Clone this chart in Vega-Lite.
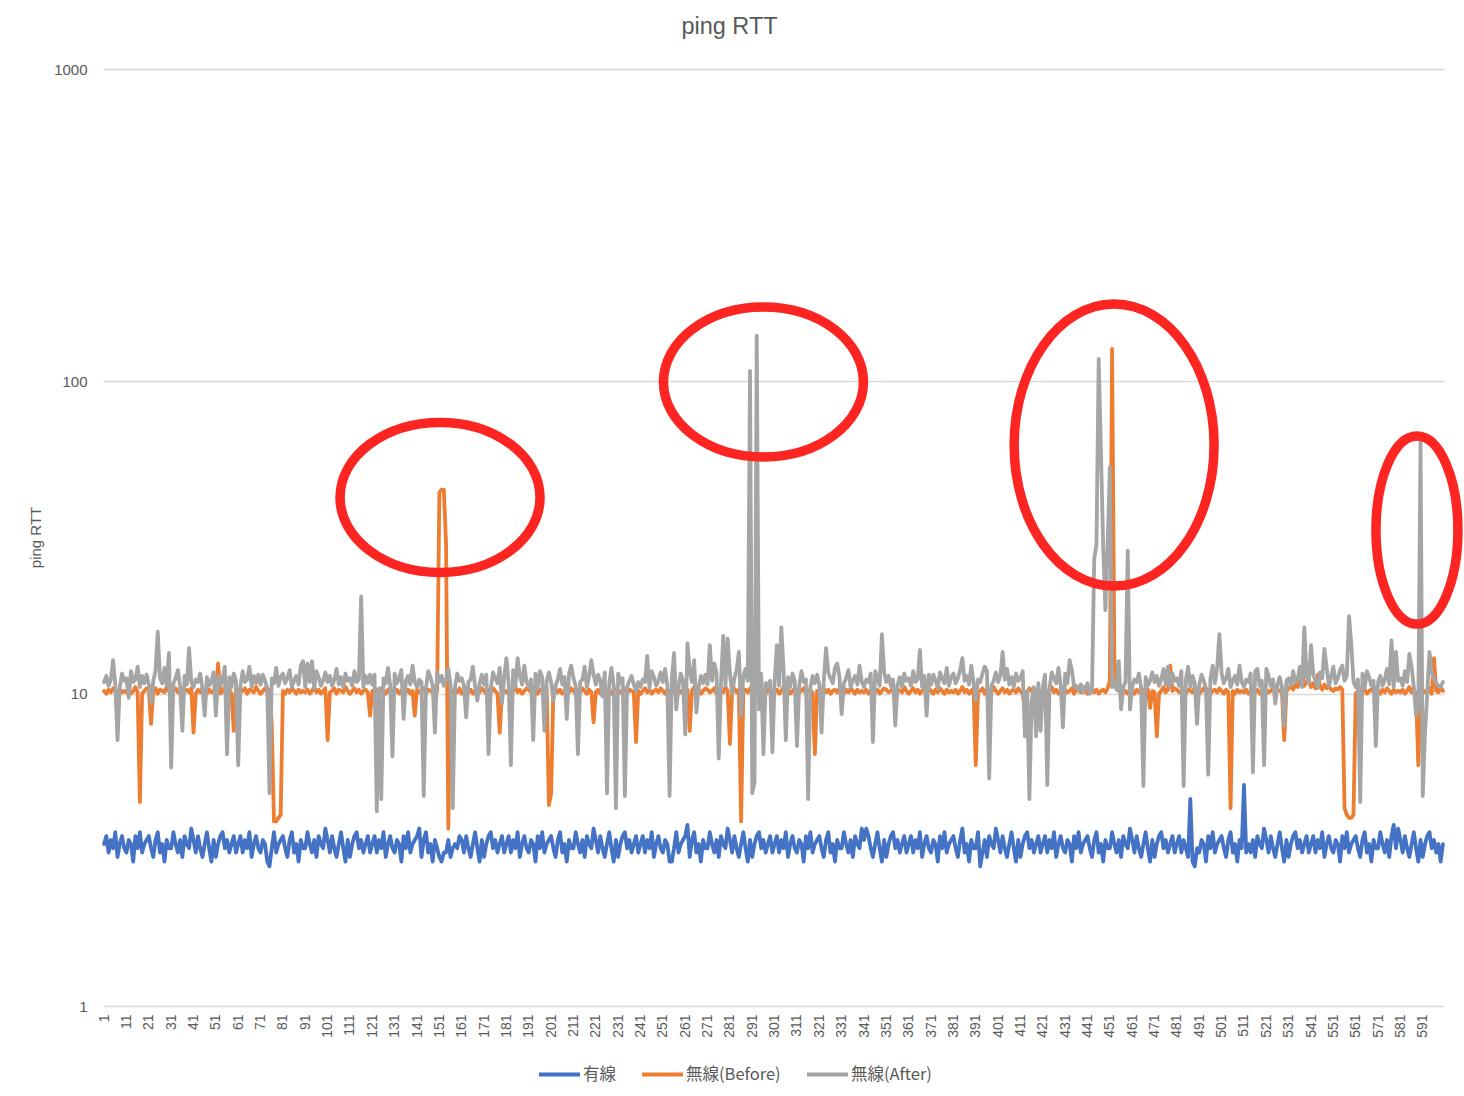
{
"$schema":"https://vega.github.io/schema/vega-lite/v6.json",
"width":1341,"height":937,
"autosize":{"type":"none"},
"padding":{"left":103,"top":69,"right":20,"bottom":90},
"background":"white",
"config":{"view":{"stroke":null},"font":"Liberation Sans","axis":{"labelOverlap":false},"axisX":{"labelOverlap":false,"labelBound":false}},
"title":{"text":"ping RTT","fontSize":23.5,"color":"#595959","fontWeight":"normal","anchor":"middle","dx":-44,"offset":24,"font":"Liberation Sans"},
"layer":[
{"data":{"values":[{"i":1,"w":3.3,"b":10.2,"a":10.9},{"i":2,"w":3.5,"b":10.0,"a":11.4},{"i":3,"w":3.1,"b":10.3,"a":10.6},{"i":4,"w":3.4,"b":10.1,"a":11.1},{"i":5,"w":3.2,"b":10.4,"a":12.8},{"i":6,"w":3.6,"b":10.2,"a":10.7},{"i":7,"w":3.0,"b":10.0,"a":7.1},{"i":8,"w":3.3,"b":10.3,"a":10.5},{"i":9,"w":3.5,"b":10.1,"a":11.6},{"i":10,"w":3.2,"b":10.2,"a":11.0},
{"i":11,"w":3.1,"b":10.1,"a":11.2},{"i":12,"w":3.4,"b":10.3,"a":9.7},{"i":13,"w":3.3,"b":10.0,"a":11.8},{"i":14,"w":2.9,"b":10.2,"a":10.9},{"i":15,"w":3.5,"b":10.5,"a":11.1},{"i":16,"w":3.2,"b":10.1,"a":12.2},{"i":17,"w":3.6,"b":4.5,"a":10.5},{"i":18,"w":3.1,"b":10.0,"a":11.4},{"i":19,"w":3.3,"b":10.2,"a":10.8},{"i":20,"w":3.4,"b":10.4,"a":11.5},
{"i":21,"w":3.5,"b":10.3,"a":10.7},{"i":22,"w":3.2,"b":8.0,"a":9.3},{"i":23,"w":3.0,"b":10.2,"a":11.0},{"i":24,"w":3.4,"b":10.4,"a":11.8},{"i":25,"w":3.6,"b":10.0,"a":15.8},{"i":26,"w":3.1,"b":10.3,"a":11.2},{"i":27,"w":3.3,"b":10.2,"a":10.8},{"i":28,"w":2.9,"b":10.1,"a":12.1},{"i":29,"w":3.4,"b":10.5,"a":10.6},{"i":30,"w":3.2,"b":10.2,"a":13.5},
{"i":31,"w":3.2,"b":10.0,"a":5.8},{"i":32,"w":3.6,"b":10.2,"a":10.8},{"i":33,"w":3.3,"b":10.4,"a":11.2},{"i":34,"w":3.1,"b":10.1,"a":11.9},{"i":35,"w":3.4,"b":10.3,"a":10.5},{"i":36,"w":3.0,"b":10.0,"a":7.6},{"i":37,"w":3.5,"b":10.2,"a":11.4},{"i":38,"w":3.3,"b":10.3,"a":10.7},{"i":39,"w":3.2,"b":10.1,"a":14.0},{"i":40,"w":3.7,"b":10.4,"a":10.9},
{"i":41,"w":3.4,"b":7.5,"a":10.5},{"i":42,"w":3.1,"b":10.0,"a":11.1},{"i":43,"w":3.5,"b":10.3,"a":10.9},{"i":44,"w":3.2,"b":10.1,"a":11.6},{"i":45,"w":3.0,"b":10.4,"a":10.4},{"i":46,"w":3.3,"b":10.2,"a":8.5},{"i":47,"w":3.6,"b":10.0,"a":11.3},{"i":48,"w":3.2,"b":10.3,"a":10.6},{"i":49,"w":2.9,"b":10.1,"a":11.0},{"i":50,"w":3.4,"b":10.2,"a":11.7},
{"i":51,"w":3.0,"b":10.1,"a":8.5},{"i":52,"w":3.3,"b":12.5,"a":11.4},{"i":53,"w":3.5,"b":10.0,"a":10.6},{"i":54,"w":3.6,"b":10.2,"a":11.1},{"i":55,"w":3.2,"b":10.5,"a":12.2},{"i":56,"w":3.4,"b":10.1,"a":6.4},{"i":57,"w":3.1,"b":10.3,"a":11.3},{"i":58,"w":3.3,"b":10.0,"a":10.5},{"i":59,"w":3.5,"b":7.6,"a":11.6},{"i":60,"w":3.1,"b":10.4,"a":11.0},
{"i":61,"w":3.3,"b":10.3,"a":5.9},{"i":62,"w":3.5,"b":10.1,"a":10.6},{"i":63,"w":3.1,"b":10.2,"a":11.8},{"i":64,"w":3.4,"b":10.4,"a":10.9},{"i":65,"w":3.2,"b":10.0,"a":11.1},{"i":66,"w":3.6,"b":10.3,"a":12.2},{"i":67,"w":3.0,"b":10.2,"a":10.5},{"i":68,"w":3.3,"b":10.1,"a":11.4},{"i":69,"w":3.5,"b":10.5,"a":10.8},{"i":70,"w":3.2,"b":10.2,"a":11.5},
{"i":71,"w":3.1,"b":10.0,"a":10.7},{"i":72,"w":3.4,"b":10.2,"a":11.5},{"i":73,"w":3.3,"b":10.4,"a":11.0},{"i":74,"w":2.9,"b":10.1,"a":10.4},{"i":75,"w":2.8,"b":10.3,"a":4.8},{"i":76,"w":3.2,"b":8.0,"a":11.2},{"i":77,"w":3.6,"b":3.9,"a":10.8},{"i":78,"w":3.1,"b":3.9,"a":12.1},{"i":79,"w":3.3,"b":4.0,"a":10.6},{"i":80,"w":3.4,"b":4.1,"a":11.3},
{"i":81,"w":3.5,"b":10.2,"a":11.6},{"i":82,"w":3.2,"b":10.0,"a":10.8},{"i":83,"w":3.0,"b":10.3,"a":11.2},{"i":84,"w":3.4,"b":10.1,"a":11.9},{"i":85,"w":3.6,"b":10.4,"a":10.5},{"i":86,"w":3.1,"b":10.2,"a":11.0},{"i":87,"w":3.3,"b":10.0,"a":11.4},{"i":88,"w":2.9,"b":10.3,"a":10.7},{"i":89,"w":3.4,"b":10.1,"a":12.3},{"i":90,"w":3.2,"b":10.2,"a":12.7},
{"i":91,"w":3.2,"b":10.1,"a":10.5},{"i":92,"w":3.6,"b":10.3,"a":12.5},{"i":93,"w":3.3,"b":10.0,"a":10.9},{"i":94,"w":3.1,"b":10.2,"a":12.7},{"i":95,"w":3.4,"b":10.5,"a":10.4},{"i":96,"w":3.0,"b":10.1,"a":11.8},{"i":97,"w":3.5,"b":10.3,"a":11.3},{"i":98,"w":3.3,"b":10.0,"a":10.6},{"i":99,"w":3.2,"b":10.2,"a":11.0},{"i":100,"w":3.7,"b":10.4,"a":11.7},
{"i":101,"w":3.4,"b":7.1,"a":10.9},{"i":102,"w":3.1,"b":10.1,"a":11.4},{"i":103,"w":3.5,"b":10.2,"a":10.6},{"i":104,"w":3.2,"b":10.4,"a":11.1},{"i":105,"w":3.0,"b":10.0,"a":12.0},{"i":106,"w":3.3,"b":10.3,"a":10.7},{"i":107,"w":3.6,"b":10.2,"a":11.3},{"i":108,"w":3.2,"b":10.1,"a":10.5},{"i":109,"w":2.9,"b":10.5,"a":11.6},{"i":110,"w":3.4,"b":10.2,"a":11.0},
{"i":111,"w":3.0,"b":10.0,"a":11.2},{"i":112,"w":3.3,"b":10.2,"a":10.6},{"i":113,"w":3.5,"b":10.4,"a":11.8},{"i":114,"w":3.6,"b":10.1,"a":10.9},{"i":115,"w":3.2,"b":10.3,"a":11.1},{"i":116,"w":3.4,"b":10.0,"a":20.5},{"i":117,"w":3.1,"b":10.2,"a":10.5},{"i":118,"w":3.3,"b":10.3,"a":11.4},{"i":119,"w":3.5,"b":10.1,"a":10.8},{"i":120,"w":3.1,"b":8.5,"a":11.5},
{"i":121,"w":3.3,"b":10.2,"a":10.7},{"i":122,"w":3.5,"b":10.0,"a":11.5},{"i":123,"w":3.1,"b":10.3,"a":4.2},{"i":124,"w":3.4,"b":10.1,"a":10.4},{"i":125,"w":3.2,"b":10.4,"a":4.6},{"i":126,"w":3.6,"b":10.2,"a":11.2},{"i":127,"w":3.0,"b":10.0,"a":10.8},{"i":128,"w":3.3,"b":10.3,"a":12.1},{"i":129,"w":3.5,"b":10.1,"a":10.6},{"i":130,"w":3.2,"b":10.2,"a":6.3},
{"i":131,"w":3.1,"b":10.1,"a":11.6},{"i":132,"w":3.4,"b":10.3,"a":10.8},{"i":133,"w":3.3,"b":10.0,"a":11.2},{"i":134,"w":2.9,"b":10.2,"a":11.9},{"i":135,"w":3.5,"b":10.5,"a":8.3},{"i":136,"w":3.2,"b":10.1,"a":11.0},{"i":137,"w":3.6,"b":10.3,"a":11.4},{"i":138,"w":3.1,"b":10.0,"a":10.7},{"i":139,"w":3.3,"b":10.2,"a":12.3},{"i":140,"w":3.4,"b":8.5,"a":10.9},
{"i":141,"w":3.5,"b":10.3,"a":10.5},{"i":142,"w":3.7,"b":10.1,"a":11.1},{"i":143,"w":3.0,"b":10.2,"a":10.9},{"i":144,"w":3.4,"b":10.4,"a":4.7},{"i":145,"w":3.6,"b":10.0,"a":10.4},{"i":146,"w":3.1,"b":10.3,"a":11.8},{"i":147,"w":3.3,"b":10.2,"a":11.3},{"i":148,"w":2.9,"b":10.1,"a":10.6},{"i":149,"w":3.4,"b":10.5,"a":7.5},{"i":150,"w":3.2,"b":10.2,"a":11.7},
{"i":151,"w":3.0,"b":44,"a":10.9},{"i":152,"w":2.9,"b":45,"a":11.4},{"i":153,"w":3.1,"b":45,"a":10.6},{"i":154,"w":3.1,"b":30,"a":11.1},{"i":155,"w":3.4,"b":3.7,"a":12.0},{"i":156,"w":3.0,"b":10.0,"a":10.7},{"i":157,"w":3.2,"b":10.2,"a":4.3},{"i":158,"w":3.3,"b":10.3,"a":10.5},{"i":159,"w":3.2,"b":10.1,"a":11.6},{"i":160,"w":3.5,"b":10.4,"a":11.0},
{"i":161,"w":3.4,"b":10.0,"a":11.2},{"i":162,"w":3.1,"b":10.2,"a":10.6},{"i":163,"w":3.5,"b":10.4,"a":8.4},{"i":164,"w":3.2,"b":10.1,"a":10.9},{"i":165,"w":3.0,"b":10.3,"a":11.1},{"i":166,"w":3.3,"b":10.0,"a":12.2},{"i":167,"w":3.6,"b":10.2,"a":10.5},{"i":168,"w":3.2,"b":10.3,"a":9.5},{"i":169,"w":2.9,"b":10.1,"a":10.8},{"i":170,"w":3.4,"b":10.4,"a":11.5},
{"i":171,"w":3.0,"b":10.2,"a":10.7},{"i":172,"w":3.3,"b":10.0,"a":11.5},{"i":173,"w":3.5,"b":10.3,"a":6.4},{"i":174,"w":3.6,"b":10.1,"a":10.4},{"i":175,"w":3.2,"b":10.4,"a":11.7},{"i":176,"w":3.4,"b":10.2,"a":11.2},{"i":177,"w":3.1,"b":10.0,"a":10.8},{"i":178,"w":3.3,"b":7.5,"a":12.1},{"i":179,"w":3.5,"b":10.1,"a":9.3},{"i":180,"w":3.1,"b":10.2,"a":11.3},
{"i":181,"w":3.3,"b":10.1,"a":13.0},{"i":182,"w":3.5,"b":10.3,"a":10.8},{"i":183,"w":3.1,"b":10.0,"a":5.9},{"i":184,"w":3.4,"b":10.2,"a":11.9},{"i":185,"w":3.2,"b":10.5,"a":10.5},{"i":186,"w":3.6,"b":10.1,"a":13.0},{"i":187,"w":3.0,"b":10.3,"a":11.4},{"i":188,"w":3.3,"b":10.0,"a":10.7},{"i":189,"w":3.5,"b":10.2,"a":12.3},{"i":190,"w":3.2,"b":10.4,"a":10.9},
{"i":191,"w":3.1,"b":10.3,"a":10.5},{"i":192,"w":3.4,"b":10.1,"a":11.1},{"i":193,"w":3.3,"b":10.2,"a":7.1},{"i":194,"w":2.9,"b":10.4,"a":11.6},{"i":195,"w":3.5,"b":10.0,"a":10.4},{"i":196,"w":3.2,"b":10.3,"a":11.8},{"i":197,"w":3.6,"b":10.2,"a":11.3},{"i":198,"w":3.1,"b":10.1,"a":7.6},{"i":199,"w":3.3,"b":10.5,"a":11.0},{"i":200,"w":3.4,"b":4.4,"a":11.7},
{"i":201,"w":3.5,"b":4.8,"a":10.9},{"i":202,"w":3.2,"b":10.2,"a":9.5},{"i":203,"w":3.0,"b":10.4,"a":10.6},{"i":204,"w":3.4,"b":10.1,"a":11.1},{"i":205,"w":3.6,"b":10.3,"a":12.0},{"i":206,"w":3.1,"b":10.0,"a":10.7},{"i":207,"w":3.3,"b":10.2,"a":11.3},{"i":208,"w":2.9,"b":10.3,"a":8.3},{"i":209,"w":3.4,"b":10.1,"a":11.6},{"i":210,"w":3.2,"b":10.4,"a":12.3},
{"i":211,"w":3.2,"b":10.2,"a":11.2},{"i":212,"w":3.6,"b":10.0,"a":10.6},{"i":213,"w":3.3,"b":10.3,"a":6.4},{"i":214,"w":3.1,"b":10.1,"a":10.9},{"i":215,"w":3.4,"b":10.4,"a":11.1},{"i":216,"w":3.0,"b":10.2,"a":12.2},{"i":217,"w":3.5,"b":10.0,"a":10.5},{"i":218,"w":3.3,"b":10.3,"a":11.4},{"i":219,"w":3.2,"b":10.1,"a":12.8},{"i":220,"w":3.7,"b":8.1,"a":11.5},
{"i":221,"w":3.4,"b":10.1,"a":10.7},{"i":222,"w":3.1,"b":10.3,"a":11.5},{"i":223,"w":3.5,"b":10.0,"a":11.0},{"i":224,"w":3.2,"b":10.2,"a":9.8},{"i":225,"w":3.0,"b":10.5,"a":11.7},{"i":226,"w":3.3,"b":10.1,"a":4.8},{"i":227,"w":3.6,"b":10.3,"a":10.8},{"i":228,"w":3.2,"b":10.0,"a":12.1},{"i":229,"w":2.9,"b":10.2,"a":10.6},{"i":230,"w":3.4,"b":10.4,"a":4.3},
{"i":231,"w":3.0,"b":10.3,"a":11.6},{"i":232,"w":3.3,"b":10.1,"a":10.8},{"i":233,"w":3.5,"b":10.2,"a":11.2},{"i":234,"w":3.6,"b":10.4,"a":4.7},{"i":235,"w":3.2,"b":10.0,"a":10.5},{"i":236,"w":3.4,"b":10.3,"a":11.0},{"i":237,"w":3.1,"b":10.2,"a":11.4},{"i":238,"w":3.3,"b":10.1,"a":10.7},{"i":239,"w":3.5,"b":7.0,"a":10.2},{"i":240,"w":3.1,"b":10.2,"a":10.9},
{"i":241,"w":3.3,"b":10.0,"a":10.5},{"i":242,"w":3.5,"b":10.2,"a":11.1},{"i":243,"w":3.1,"b":10.4,"a":10.9},{"i":244,"w":3.4,"b":10.1,"a":13.2},{"i":245,"w":3.2,"b":10.3,"a":10.4},{"i":246,"w":3.6,"b":10.0,"a":11.8},{"i":247,"w":3.0,"b":10.2,"a":11.3},{"i":248,"w":3.3,"b":10.3,"a":10.6},{"i":249,"w":3.5,"b":10.1,"a":11.0},{"i":250,"w":3.2,"b":10.4,"a":11.7},
{"i":251,"w":3.1,"b":10.2,"a":10.9},{"i":252,"w":3.4,"b":10.0,"a":12.0},{"i":253,"w":3.3,"b":10.3,"a":10.6},{"i":254,"w":2.9,"b":10.1,"a":4.7},{"i":255,"w":2.9,"b":10.4,"a":11.1},{"i":256,"w":3.2,"b":10.2,"a":13.5},{"i":257,"w":3.6,"b":10.0,"a":8.9},{"i":258,"w":3.1,"b":10.3,"a":10.5},{"i":259,"w":3.3,"b":10.1,"a":11.6},{"i":260,"w":3.4,"b":10.2,"a":11.0},
{"i":261,"w":3.5,"b":10.1,"a":7.4},{"i":262,"w":3.8,"b":10.3,"a":14.5},{"i":263,"w":3.0,"b":7.6,"a":11.8},{"i":264,"w":3.4,"b":10.2,"a":10.9},{"i":265,"w":3.6,"b":10.5,"a":12.8},{"i":266,"w":3.1,"b":10.1,"a":8.7},{"i":267,"w":3.3,"b":10.3,"a":10.5},{"i":268,"w":2.9,"b":10.0,"a":11.4},{"i":269,"w":3.4,"b":10.2,"a":10.8},{"i":270,"w":3.2,"b":10.4,"a":11.5},
{"i":271,"w":3.2,"b":10.3,"a":10.7},{"i":272,"w":3.6,"b":10.1,"a":14.3},{"i":273,"w":3.3,"b":10.2,"a":11.0},{"i":274,"w":3.1,"b":10.4,"a":12.5},{"i":275,"w":3.4,"b":10.0,"a":11.7},{"i":276,"w":3.0,"b":10.3,"a":6.2},{"i":277,"w":3.5,"b":10.2,"a":10.8},{"i":278,"w":3.3,"b":10.1,"a":15.3},{"i":279,"w":3.2,"b":10.5,"a":10.6},{"i":280,"w":3.7,"b":10.2,"a":15.0},
{"i":281,"w":3.4,"b":6.9,"a":11.6},{"i":282,"w":3.1,"b":10.2,"a":10.0},{"i":283,"w":3.5,"b":10.4,"a":11.2},{"i":284,"w":3.2,"b":10.1,"a":11.9},{"i":285,"w":3.0,"b":10.3,"a":13.6},{"i":286,"w":3.3,"b":3.9,"a":8.5},{"i":287,"w":3.6,"b":10.2,"a":11.4},{"i":288,"w":3.2,"b":10.3,"a":12.0},{"i":289,"w":2.9,"b":10.1,"a":11.0},{"i":290,"w":3.4,"b":10.4,"a":108},
{"i":291,"w":3.0,"b":10.2,"a":4.8},{"i":292,"w":3.3,"b":10.0,"a":5.2},{"i":293,"w":3.5,"b":10.3,"a":140},{"i":294,"w":3.6,"b":10.1,"a":8.9},{"i":295,"w":3.2,"b":10.4,"a":11.6},{"i":296,"w":3.4,"b":10.2,"a":6.4},{"i":297,"w":3.1,"b":10.0,"a":10.8},{"i":298,"w":3.3,"b":10.3,"a":10.6},{"i":299,"w":3.5,"b":10.1,"a":11.0},{"i":300,"w":3.1,"b":10.2,"a":6.5},
{"i":301,"w":3.3,"b":10.1,"a":10.9},{"i":302,"w":3.5,"b":10.3,"a":14.3},{"i":303,"w":3.1,"b":10.0,"a":10.6},{"i":304,"w":3.4,"b":10.2,"a":16.3},{"i":305,"w":3.2,"b":10.5,"a":12.0},{"i":306,"w":3.6,"b":10.1,"a":7.1},{"i":307,"w":3.0,"b":10.3,"a":11.3},{"i":308,"w":3.3,"b":10.0,"a":10.5},{"i":309,"w":3.5,"b":10.2,"a":11.6},{"i":310,"w":3.2,"b":10.4,"a":11.0},
{"i":311,"w":3.1,"b":10.3,"a":6.8},{"i":312,"w":3.4,"b":10.1,"a":10.6},{"i":313,"w":3.3,"b":10.2,"a":11.8},{"i":314,"w":2.9,"b":10.4,"a":10.9},{"i":315,"w":3.5,"b":10.0,"a":11.1},{"i":316,"w":3.2,"b":10.3,"a":4.6},{"i":317,"w":3.6,"b":10.2,"a":10.5},{"i":318,"w":3.1,"b":10.1,"a":11.4},{"i":319,"w":3.3,"b":6.4,"a":10.8},{"i":320,"w":3.4,"b":10.2,"a":11.5},
{"i":321,"w":3.5,"b":10.0,"a":10.7},{"i":322,"w":3.2,"b":10.2,"a":7.5},{"i":323,"w":3.0,"b":10.4,"a":11.0},{"i":324,"w":3.4,"b":10.1,"a":14.0},{"i":325,"w":3.6,"b":10.3,"a":11.7},{"i":326,"w":3.1,"b":10.0,"a":11.2},{"i":327,"w":3.3,"b":10.2,"a":10.8},{"i":328,"w":2.9,"b":10.3,"a":12.1},{"i":329,"w":3.4,"b":10.1,"a":12.5},{"i":330,"w":3.2,"b":10.4,"a":11.3},
{"i":331,"w":3.2,"b":10.2,"a":8.6},{"i":332,"w":3.6,"b":10.0,"a":10.8},{"i":333,"w":3.3,"b":10.3,"a":11.2},{"i":334,"w":3.1,"b":10.1,"a":11.9},{"i":335,"w":3.4,"b":10.4,"a":10.5},{"i":336,"w":3.0,"b":10.2,"a":11.0},{"i":337,"w":3.5,"b":10.0,"a":11.4},{"i":338,"w":3.3,"b":10.3,"a":10.7},{"i":339,"w":3.2,"b":10.1,"a":12.3},{"i":340,"w":3.7,"b":10.2,"a":10.9},
{"i":341,"w":3.4,"b":10.1,"a":10.5},{"i":342,"w":3.7,"b":10.3,"a":11.1},{"i":343,"w":3.5,"b":10.0,"a":10.9},{"i":344,"w":3.2,"b":10.2,"a":11.6},{"i":345,"w":3.0,"b":10.5,"a":7.0},{"i":346,"w":3.3,"b":10.1,"a":11.8},{"i":347,"w":3.6,"b":10.3,"a":11.3},{"i":348,"w":3.2,"b":10.0,"a":10.6},{"i":349,"w":2.9,"b":10.2,"a":15.5},{"i":350,"w":3.4,"b":10.4,"a":11.7},
{"i":351,"w":3.0,"b":10.3,"a":10.9},{"i":352,"w":3.3,"b":10.1,"a":11.4},{"i":353,"w":3.5,"b":10.2,"a":10.6},{"i":354,"w":3.6,"b":10.4,"a":11.1},{"i":355,"w":3.2,"b":10.0,"a":7.9},{"i":356,"w":3.4,"b":10.3,"a":10.7},{"i":357,"w":3.1,"b":10.2,"a":11.3},{"i":358,"w":3.3,"b":10.1,"a":10.5},{"i":359,"w":3.5,"b":10.5,"a":11.6},{"i":360,"w":3.1,"b":10.2,"a":11.0},
{"i":361,"w":3.3,"b":10.0,"a":11.2},{"i":362,"w":3.5,"b":10.2,"a":10.6},{"i":363,"w":3.1,"b":10.4,"a":11.8},{"i":364,"w":3.4,"b":10.1,"a":10.9},{"i":365,"w":3.2,"b":10.3,"a":11.1},{"i":366,"w":3.6,"b":10.0,"a":13.8},{"i":367,"w":3.0,"b":10.2,"a":10.5},{"i":368,"w":3.3,"b":10.3,"a":11.4},{"i":369,"w":3.5,"b":10.1,"a":8.5},{"i":370,"w":3.2,"b":10.4,"a":11.5},
{"i":371,"w":3.1,"b":10.2,"a":10.7},{"i":372,"w":3.4,"b":10.0,"a":11.5},{"i":373,"w":3.3,"b":10.3,"a":11.0},{"i":374,"w":2.9,"b":10.1,"a":10.4},{"i":375,"w":3.5,"b":10.4,"a":11.7},{"i":376,"w":3.2,"b":10.2,"a":11.2},{"i":377,"w":3.6,"b":10.0,"a":10.8},{"i":378,"w":3.1,"b":10.3,"a":12.1},{"i":379,"w":3.3,"b":10.1,"a":10.6},{"i":380,"w":3.4,"b":10.2,"a":11.3},
{"i":381,"w":3.5,"b":10.1,"a":11.6},{"i":382,"w":3.2,"b":10.3,"a":10.8},{"i":383,"w":3.0,"b":10.0,"a":11.2},{"i":384,"w":3.4,"b":10.2,"a":11.9},{"i":385,"w":3.7,"b":10.5,"a":13.0},{"i":386,"w":3.1,"b":10.1,"a":11.0},{"i":387,"w":3.3,"b":10.3,"a":11.4},{"i":388,"w":2.9,"b":10.0,"a":10.7},{"i":389,"w":3.4,"b":10.2,"a":12.3},{"i":390,"w":3.2,"b":10.4,"a":10.9},
{"i":391,"w":3.2,"b":5.9,"a":9.5},{"i":392,"w":3.6,"b":10.1,"a":11.1},{"i":393,"w":2.8,"b":10.2,"a":10.9},{"i":394,"w":3.1,"b":10.4,"a":11.6},{"i":395,"w":3.4,"b":10.0,"a":12.2},{"i":396,"w":3.0,"b":10.3,"a":11.8},{"i":397,"w":3.5,"b":10.2,"a":5.35},{"i":398,"w":3.3,"b":10.1,"a":10.6},{"i":399,"w":3.2,"b":10.5,"a":11.0},{"i":400,"w":3.7,"b":10.2,"a":11.7},
{"i":401,"w":3.4,"b":10.0,"a":10.9},{"i":402,"w":3.1,"b":10.2,"a":11.4},{"i":403,"w":3.5,"b":10.4,"a":13.6},{"i":404,"w":3.2,"b":10.1,"a":11.1},{"i":405,"w":3.0,"b":10.3,"a":12.0},{"i":406,"w":3.3,"b":10.0,"a":10.7},{"i":407,"w":3.6,"b":10.2,"a":11.3},{"i":408,"w":3.2,"b":10.3,"a":10.5},{"i":409,"w":2.9,"b":10.1,"a":11.6},{"i":410,"w":3.4,"b":10.4,"a":11.0},
{"i":411,"w":3.0,"b":10.2,"a":11.2},{"i":412,"w":3.3,"b":10.0,"a":11.8},{"i":413,"w":3.5,"b":9.0,"a":7.3},{"i":414,"w":3.6,"b":10.1,"a":10.2},{"i":415,"w":3.2,"b":10.4,"a":4.6},{"i":416,"w":3.4,"b":10.2,"a":9.5},{"i":417,"w":3.1,"b":10.0,"a":10.5},{"i":418,"w":3.3,"b":10.3,"a":7.3},{"i":419,"w":3.5,"b":10.1,"a":10.8},{"i":420,"w":3.1,"b":10.2,"a":7.6},
{"i":421,"w":3.3,"b":10.1,"a":10.5},{"i":422,"w":3.5,"b":10.3,"a":11.5},{"i":423,"w":3.1,"b":10.0,"a":5.1},{"i":424,"w":3.4,"b":10.2,"a":10.4},{"i":425,"w":3.2,"b":10.5,"a":11.7},{"i":426,"w":3.6,"b":10.1,"a":11.2},{"i":427,"w":3.0,"b":10.3,"a":10.8},{"i":428,"w":3.3,"b":10.0,"a":12.1},{"i":429,"w":3.5,"b":10.2,"a":10.6},{"i":430,"w":3.2,"b":10.4,"a":7.8},
{"i":431,"w":3.1,"b":10.3,"a":11.6},{"i":432,"w":3.4,"b":10.1,"a":10.8},{"i":433,"w":3.3,"b":10.2,"a":12.8},{"i":434,"w":2.9,"b":10.4,"a":11.9},{"i":435,"w":3.5,"b":10.0,"a":10.5},{"i":436,"w":3.2,"b":10.3,"a":10.6},{"i":437,"w":3.6,"b":10.2,"a":10.2},{"i":438,"w":3.1,"b":10.1,"a":10.7},{"i":439,"w":3.3,"b":10.5,"a":10.1},{"i":440,"w":3.4,"b":10.2,"a":10.4},
{"i":441,"w":3.5,"b":10.0,"a":10.8},{"i":442,"w":3.2,"b":10.2,"a":10.0},{"i":443,"w":3.0,"b":10.4,"a":10.2},{"i":444,"w":3.4,"b":10.1,"a":27},{"i":445,"w":3.6,"b":10.3,"a":30},{"i":446,"w":3.1,"b":10.0,"a":118},{"i":447,"w":3.3,"b":10.2,"a":60},{"i":448,"w":2.9,"b":10.3,"a":30},{"i":449,"w":3.4,"b":10.1,"a":18.5},{"i":450,"w":3.2,"b":10.4,"a":30},
{"i":451,"w":3.2,"b":11.0,"a":53},{"i":452,"w":3.6,"b":127,"a":10.5},{"i":453,"w":3.3,"b":13.0,"a":10.8},{"i":454,"w":3.1,"b":10.5,"a":10.3},{"i":455,"w":3.4,"b":10.2,"a":12.7},{"i":456,"w":3.0,"b":10.3,"a":8.9},{"i":457,"w":3.5,"b":10.1,"a":10.5},{"i":458,"w":3.3,"b":10.2,"a":10.9},{"i":459,"w":3.2,"b":10.0,"a":28.7},{"i":460,"w":3.7,"b":10.3,"a":8.9},
{"i":461,"w":3.4,"b":10.2,"a":10.5},{"i":462,"w":3.1,"b":10.0,"a":11.1},{"i":463,"w":3.5,"b":10.3,"a":10.9},{"i":464,"w":3.2,"b":10.1,"a":11.6},{"i":465,"w":3.0,"b":10.4,"a":10.4},{"i":466,"w":3.3,"b":10.2,"a":5.06},{"i":467,"w":3.6,"b":10.0,"a":11.3},{"i":468,"w":3.2,"b":10.3,"a":10.6},{"i":469,"w":2.9,"b":9.0,"a":11.0},{"i":470,"w":3.4,"b":10.2,"a":11.7},
{"i":471,"w":3.0,"b":10.1,"a":10.9},{"i":472,"w":3.3,"b":7.3,"a":11.4},{"i":473,"w":3.5,"b":10.0,"a":10.6},{"i":474,"w":3.6,"b":10.2,"a":11.1},{"i":475,"w":3.2,"b":10.5,"a":12.0},{"i":476,"w":3.4,"b":10.1,"a":10.7},{"i":477,"w":3.1,"b":10.3,"a":12.2},{"i":478,"w":3.3,"b":12.3,"a":10.5},{"i":479,"w":3.5,"b":10.2,"a":11.6},{"i":480,"w":3.1,"b":10.4,"a":11.0},
{"i":481,"w":3.3,"b":10.3,"a":11.2},{"i":482,"w":3.5,"b":10.1,"a":10.6},{"i":483,"w":3.1,"b":10.2,"a":11.8},{"i":484,"w":3.4,"b":10.4,"a":5.06},{"i":485,"w":3.2,"b":10.0,"a":11.1},{"i":486,"w":3.0,"b":10.3,"a":12.2},{"i":487,"w":4.6,"b":10.2,"a":10.5},{"i":488,"w":2.9,"b":10.1,"a":11.4},{"i":489,"w":2.8,"b":10.5,"a":10.8},{"i":490,"w":3.2,"b":10.2,"a":8.0},
{"i":491,"w":3.1,"b":10.0,"a":10.7},{"i":492,"w":3.4,"b":10.2,"a":11.5},{"i":493,"w":3.3,"b":10.4,"a":11.0},{"i":494,"w":2.9,"b":10.1,"a":10.4},{"i":495,"w":3.5,"b":10.3,"a":5.5},{"i":496,"w":3.2,"b":10.0,"a":11.2},{"i":497,"w":3.6,"b":10.2,"a":12.3},{"i":498,"w":3.1,"b":10.3,"a":10.8},{"i":499,"w":3.3,"b":10.1,"a":12.1},{"i":500,"w":3.4,"b":10.4,"a":15.5},
{"i":501,"w":3.5,"b":10.2,"a":11.6},{"i":502,"w":3.2,"b":10.0,"a":10.8},{"i":503,"w":3.0,"b":10.3,"a":11.2},{"i":504,"w":3.4,"b":10.1,"a":12.0},{"i":505,"w":3.6,"b":4.3,"a":10.5},{"i":506,"w":3.1,"b":10.2,"a":11.0},{"i":507,"w":3.3,"b":10.0,"a":11.4},{"i":508,"w":2.9,"b":10.3,"a":10.7},{"i":509,"w":3.4,"b":10.1,"a":12.3},{"i":510,"w":3.2,"b":10.2,"a":10.9},
{"i":511,"w":5.1,"b":10.1,"a":10.5},{"i":512,"w":3.1,"b":10.3,"a":11.1},{"i":513,"w":3.3,"b":10.0,"a":10.9},{"i":514,"w":3.1,"b":10.2,"a":11.6},{"i":515,"w":3.4,"b":10.5,"a":5.6},{"i":516,"w":3.0,"b":10.1,"a":11.8},{"i":517,"w":3.5,"b":10.3,"a":12.0},{"i":518,"w":3.3,"b":10.0,"a":10.6},{"i":519,"w":3.2,"b":10.2,"a":11.0},{"i":520,"w":3.7,"b":10.4,"a":5.9},
{"i":521,"w":3.4,"b":10.3,"a":12.0},{"i":522,"w":3.1,"b":10.1,"a":11.4},{"i":523,"w":3.5,"b":10.2,"a":10.6},{"i":524,"w":3.2,"b":10.4,"a":11.1},{"i":525,"w":3.0,"b":10.0,"a":9.3},{"i":526,"w":3.3,"b":10.3,"a":10.7},{"i":527,"w":3.6,"b":10.2,"a":11.3},{"i":528,"w":3.2,"b":10.1,"a":10.5},{"i":529,"w":2.9,"b":7.1,"a":7.9},{"i":530,"w":3.4,"b":10.2,"a":11.0},
{"i":531,"w":3.0,"b":10.4,"a":11.2},{"i":532,"w":3.3,"b":10.6,"a":10.6},{"i":533,"w":3.5,"b":10.3,"a":11.8},{"i":534,"w":3.6,"b":10.7,"a":10.9},{"i":535,"w":3.2,"b":10.5,"a":11.1},{"i":536,"w":3.4,"b":11.0,"a":12.2},{"i":537,"w":3.1,"b":11.8,"a":10.5},{"i":538,"w":3.3,"b":10.6,"a":16.3},{"i":539,"w":3.5,"b":10.9,"a":11.4},{"i":540,"w":3.1,"b":11.0,"a":10.8},
{"i":541,"w":3.3,"b":10.5,"a":14.3},{"i":542,"w":3.5,"b":10.8,"a":11.5},{"i":543,"w":3.1,"b":10.4,"a":11.0},{"i":544,"w":3.4,"b":11.5,"a":10.4},{"i":545,"w":3.2,"b":10.6,"a":11.7},{"i":546,"w":3.6,"b":10.3,"a":11.2},{"i":547,"w":3.0,"b":10.7,"a":13.9},{"i":548,"w":3.3,"b":10.4,"a":12.1},{"i":549,"w":3.5,"b":10.6,"a":10.6},{"i":550,"w":3.2,"b":10.3,"a":11.3},
{"i":551,"w":3.1,"b":10.2,"a":12.2},{"i":552,"w":3.4,"b":10.4,"a":10.8},{"i":553,"w":3.3,"b":10.3,"a":11.2},{"i":554,"w":2.9,"b":10.5,"a":11.9},{"i":555,"w":3.5,"b":10.3,"a":12.3},{"i":556,"w":3.2,"b":4.3,"a":11.0},{"i":557,"w":3.6,"b":4.1,"a":11.4},{"i":558,"w":3.1,"b":4.0,"a":17.7},{"i":559,"w":3.3,"b":4.0,"a":14.5},{"i":560,"w":3.4,"b":4.1,"a":10.9},
{"i":561,"w":3.5,"b":10.0,"a":10.5},{"i":562,"w":3.2,"b":10.2,"a":11.1},{"i":563,"w":3.0,"b":10.4,"a":4.5},{"i":564,"w":3.4,"b":10.1,"a":11.6},{"i":565,"w":3.6,"b":10.3,"a":10.4},{"i":566,"w":3.1,"b":10.0,"a":11.8},{"i":567,"w":3.3,"b":10.2,"a":11.3},{"i":568,"w":2.9,"b":10.3,"a":10.6},{"i":569,"w":3.4,"b":10.1,"a":11.0},{"i":570,"w":3.2,"b":10.4,"a":6.8},
{"i":571,"w":3.2,"b":10.2,"a":10.9},{"i":572,"w":3.6,"b":10.0,"a":11.4},{"i":573,"w":3.3,"b":10.3,"a":10.6},{"i":574,"w":3.1,"b":10.1,"a":11.1},{"i":575,"w":3.4,"b":10.4,"a":12.0},{"i":576,"w":3.0,"b":10.2,"a":10.7},{"i":577,"w":3.5,"b":10.0,"a":14.8},{"i":578,"w":3.8,"b":10.3,"a":10.5},{"i":579,"w":3.2,"b":10.1,"a":13.6},{"i":580,"w":3.7,"b":10.2,"a":11.0},
{"i":581,"w":3.4,"b":10.1,"a":11.2},{"i":582,"w":3.1,"b":10.3,"a":10.6},{"i":583,"w":3.5,"b":10.0,"a":11.8},{"i":584,"w":3.2,"b":10.2,"a":10.9},{"i":585,"w":3.0,"b":10.5,"a":13.4},{"i":586,"w":3.3,"b":10.1,"a":12.2},{"i":587,"w":3.6,"b":10.3,"a":10.5},{"i":588,"w":3.2,"b":10.0,"a":8.5},{"i":589,"w":2.9,"b":5.9,"a":9.0},{"i":590,"w":3.4,"b":10.4,"a":64},
{"i":591,"w":3.0,"b":10.3,"a":4.7},{"i":592,"w":3.3,"b":10.1,"a":7.5},{"i":593,"w":3.5,"b":10.2,"a":10.0},{"i":594,"w":3.6,"b":10.4,"a":13.6},{"i":595,"w":3.2,"b":10.0,"a":11.7},{"i":596,"w":3.4,"b":13.0,"a":11.2},{"i":597,"w":3.1,"b":10.2,"a":10.8},{"i":598,"w":3.3,"b":10.1,"a":10.6},{"i":599,"w":2.9,"b":10.5,"a":10.5},{"i":600,"w":3.3,"b":10.2,"a":10.9}]},
"transform":[{"fold":["w","b","a"],"as":["s","v"]}],
"mark":{"type":"line","strokeWidth":3.8,"strokeJoin":"round","strokeCap":"round"},
"encoding":{
"x":{"field":"i","type":"quantitative","scale":{"domain":[0.5,600.5],"nice":false,"zero":false},
"axis":{"title":null,"values":[1,11,21,31,41,51,61,71,81,91,101,111,121,131,141,151,161,171,181,191,201,211,221,231,241,251,261,271,281,291,301,311,321,331,341,351,361,371,381,391,401,411,421,431,441,451,461,471,481,491,501,511,521,531,541,551,561,571,581,591],"tickCount":200,"labelAngle":270,"labelFontSize":14,"labelColor":"#595959","labelPadding":8,"ticks":false,"domain":false,"grid":false,"labelOverlap":false,"labelBound":false,"labelSeparation":0,"labelFont":"Liberation Sans"}},
"y":{"field":"v","type":"quantitative","scale":{"type":"log","domain":[1,1000],"nice":false},
"axis":{"title":"ping RTT","values":[1,10,100,1000],"format":"d","grid":true,"gridColor":"#d9d9d9","gridWidth":1.3,"domain":false,"ticks":false,"labelFontSize":15,"labelColor":"#595959","labelPadding":16,"labelFont":"Liberation Sans","titleFont":"Liberation Sans","titleFontSize":15,"titleColor":"#595959","titleFontWeight":"normal","titleX":-68,"titleY":468,"titleAngle":270,"titleBaseline":"middle"}},
"color":{"field":"s","type":"nominal","scale":{"domain":["w","b","a"],"range":["#4472C4","#ED7D31","#A5A5A5"]},
"legend":{"title":null,"orient":"none","legendX":434,"legendY":983,"direction":"horizontal","symbolType":"stroke","symbolSize":1681,"symbolStrokeWidth":4,"labelFontSize":16.5,"labelColor":"#595959","labelFont":"Noto Sans CJK JP","labelOffset":1,"columnPadding":18,"labelExpr":"datum.value == 'w' ? '有線' : datum.value == 'b' ? '無線(Before)' : '無線(After)'"}}
}},
{"data":{"values":[{"i":151.3,"v":42.5},{"i":296.0,"v":99.5}]},
"mark":{"type":"point","shape":"M 1 0 C 1 0.414 0.5523 0.75 0 0.75 C -0.5523 0.75 -1 0.414 -1 0 C -1 -0.414 -0.5523 -0.75 0 -0.75 C 0.5523 -0.75 1 -0.414 1 0 Z","size":40000,"filled":false,"stroke":"#fd2521","strokeWidth":9.5,"opacity":1},
"encoding":{"x":{"field":"i","type":"quantitative"},"y":{"field":"v","type":"quantitative"}}},
{"data":{"values":[{"i":452.9,"v":62.5}]},
"mark":{"type":"point","shape":"M 0.709 0 C 0.709 0.5523 0.392 1 0 1 C -0.392 1 -0.709 0.5523 -0.709 0 C -0.709 -0.5523 -0.392 -1 0 -1 C 0.392 -1 0.709 -0.5523 0.709 0 Z","size":79524,"filled":false,"stroke":"#fd2521","strokeWidth":9.5,"opacity":1},
"encoding":{"x":{"field":"i","type":"quantitative"},"y":{"field":"v","type":"quantitative"}}},
{"data":{"values":[{"i":588.4,"v":33.4}]},
"mark":{"type":"point","shape":"M 0.436 0 C 0.436 0.5523 0.241 1 0 1 C -0.241 1 -0.436 0.5523 -0.436 0 C -0.436 -0.5523 -0.241 -1 0 -1 C 0.241 -1 0.436 -0.5523 0.436 0 Z","size":35344,"filled":false,"stroke":"#fd2521","strokeWidth":9.5,"opacity":1},
"encoding":{"x":{"field":"i","type":"quantitative"},"y":{"field":"v","type":"quantitative"}}}
]
}
